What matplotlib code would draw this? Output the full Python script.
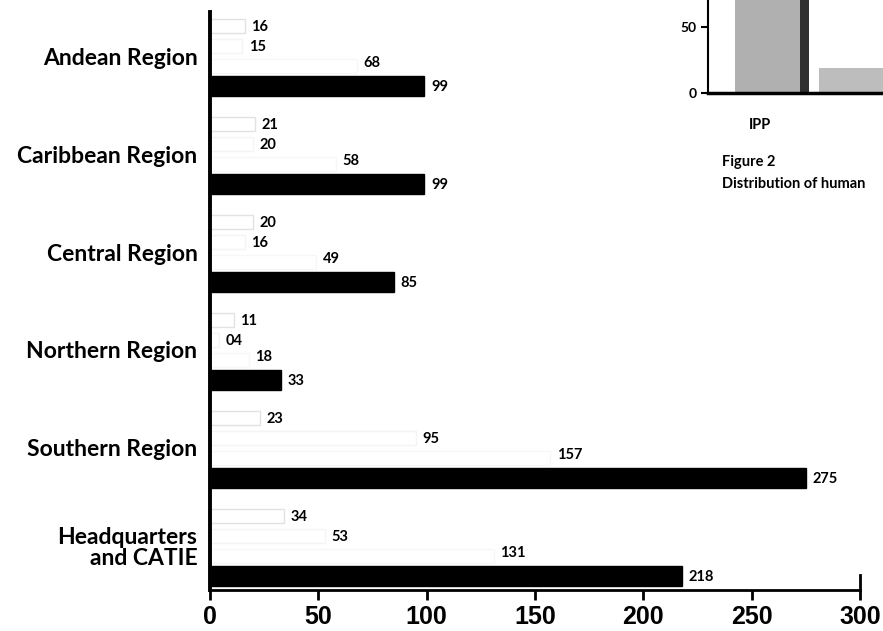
import matplotlib
matplotlib.use("Agg")
import matplotlib.pyplot as plt
import numpy as np

# datos de la figura principal
regiones = ['Andean Region', 'Caribbean Region', 'Central Region',
            'Northern Region', 'Southern Region', 'Headquarters\nand CATIE']
serie1 = [16, 21, 20, 11, 23, 34]
serie2 = [15, 20, 16, 4, 95, 53]
serie3 = [68, 58, 49, 18, 157, 131]
serie4 = [99, 99, 85, 33, 275, 218]
etiquetas2 = ['15', '20', '16', '04', '95', '53']

# datos del recorte (figura 2) que aparece arriba a la derecha
ipp_gris = [85, 19]
ipp_oscuro = [85]

fig = plt.figure(figsize=(8.83, 6.31), dpi=100)
ax = fig.add_axes([0.2378, 0.065, 0.736, 0.916])

pos = np.arange(len(regiones))
paso = 0.205
series = [serie1, serie2, serie3, serie4]
alturas = [0.14, 0.14, 0.14, 0.2]
caras = ['white', 'white', 'white', 'black']
bordes = ['#e2e2e2', '#f4f4f4', '#f7f7f7', 'black']

for k, vals in enumerate(series):
    y = pos + (k - 1.5) * paso
    ax.barh(y, vals, height=alturas[k], color=caras[k],
            edgecolor=bordes[k], linewidth=1.0)
    for i, v in enumerate(vals):
        txt = etiquetas2[i] if k == 1 else str(v)
        dy = -0.03 if k == 2 else 0.01
        ax.text(v + 3, y[i] + dy, txt, ha='left', va='center',
                fontsize=10.5, fontweight='bold', family='Lato')

ax.set_xlim(0, 300)
ax.set_ylim(5.45, -0.45)
ax.set_yticks(pos)
ax.set_yticklabels(regiones, fontsize=16.5, fontweight='bold', family='Lato',
                   linespacing=1.0)
ax.tick_params(axis='y', length=0, pad=9)
ax.set_xticks(np.arange(0, 301, 50))
ax.tick_params(axis='x', length=7, width=2, pad=4)
for lab in ax.get_xticklabels():
    lab.set_fontsize(18)
    lab.set_fontweight('bold')
    lab.set_family('Liberation Sans')

ax.spines['top'].set_visible(False)
ax.spines['right'].set_visible(False)
ax.spines['left'].set_linewidth(2.8)
ax.spines['bottom'].set_linewidth(2)
# pequeño trazo vertical al final del eje x
ax.plot([300, 300], [5.45, 5.3], color='black', lw=2, clip_on=False)

# recorte de la figura vecina
ins = fig.add_axes([0.802, 0.853, 0.25, 0.209])
ins.bar([0.49], ipp_gris[:1], width=1.18, align='edge', color='#b0b0b0')
ins.bar([1.67], ipp_oscuro, width=0.15, align='edge', color='#303030')
ins.bar([2.0], ipp_gris[1:], width=1.6, align='edge', color='#bdbdbd')
ins.set_xlim(0, 4)
ins.set_ylim(0, 100)
ins.set_yticks([0, 50])
ins.set_yticklabels(['0', '50'], fontsize=10, fontweight='bold', family='Lato')
ins.set_xticks([])
ins.tick_params(axis='y', length=5, width=1.5)
for s in ['top', 'right']:
    ins.spines[s].set_visible(False)
ins.spines['left'].set_linewidth(1.5)
ins.spines['bottom'].set_linewidth(2.5)

fig.text(760 / 883, 1 - 125 / 631, 'IPP', ha='center', va='center',
         fontsize=10.5, fontweight='bold', family='Lato')
fig.text(722 / 883, 1 - 162 / 631, 'Figure 2', ha='left', va='center',
         fontsize=10.5, fontweight='bold', family='Lato')
fig.text(722 / 883, 1 - 184 / 631, 'Distribution of human', ha='left',
         va='center', fontsize=10.5, fontweight='bold', family='Lato')

plt.savefig('out.png', dpi=100)
